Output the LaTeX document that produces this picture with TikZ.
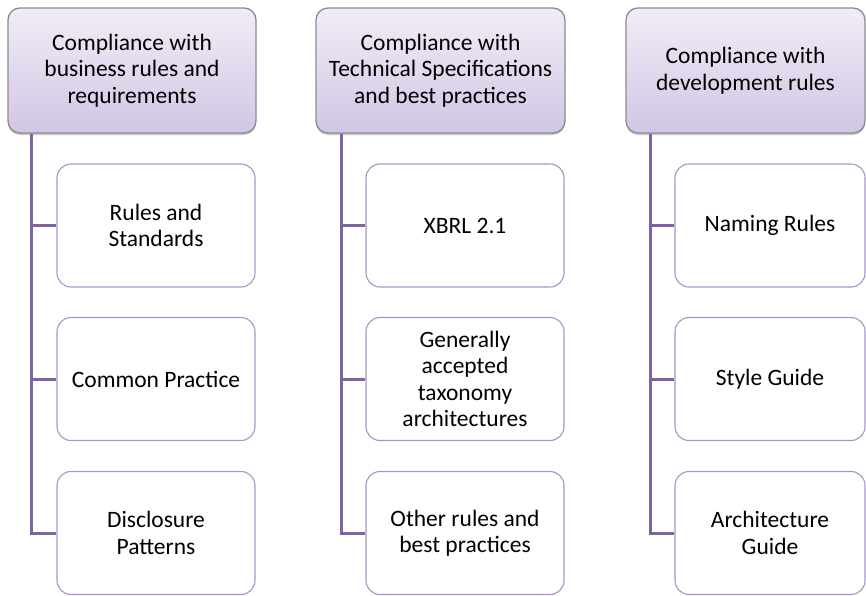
\documentclass[tikz,border=0pt]{standalone}
\usepackage{fontspec}
\setmainfont{Carlito}
\usetikzlibrary{shadows}
\definecolor{hdrtop}{HTML}{F1EDF7}
\definecolor{hdrbot}{HTML}{D2C6E4}
\definecolor{hdrborder}{HTML}{8E8A94}
\definecolor{childborder}{HTML}{A595C9}
\definecolor{connline}{HTML}{8064A2}
\tikzset{
  hdrbox/.style={draw=hdrborder, line width=1.3pt, rounded corners=12pt,
    top color=hdrtop, bottom color=hdrbot, align=center, inner sep=0pt,
    font=\fontsize{23.5}{26.5}\selectfont,
    drop shadow={shadow xshift=0pt, shadow yshift=-2pt, opacity=0.35, fill=black!60}},
  childbox/.style={draw=childborder, line width=1.1pt, rounded corners=14pt,
    fill=white, align=center, inner sep=0pt,
    font=\fontsize{23.5}{26.5}\selectfont},
  conn/.style={draw=connline, line width=3pt}
}
\begin{document}
\begin{tikzpicture}[x=1pt,y=-1pt]
\useasboundingbox (0,0) rectangle (866,595);
% headers
\node[hdrbox, minimum width=248pt, minimum height=125pt] (h1) at (132,70.5) {Compliance with\\business rules and\\requirements};
\node[hdrbox, minimum width=249pt, minimum height=125pt] (h2) at (440.5,70.5) {Compliance with\\Technical Specifications\\and best practices};
\node[hdrbox, minimum width=239pt, minimum height=125pt] (h3) at (745.5,70.5) {Compliance with\\development rules};
% column 1 children
\node[childbox, minimum width=198pt, minimum height=123pt] (c11) at (156,225.5) {Rules and\\Standards};
\node[childbox, minimum width=198pt, minimum height=123pt] (c12) at (156,379) {Common Practice};
\node[childbox, minimum width=198pt, minimum height=123pt] (c13) at (156,533) {Disclosure\\Patterns};
% column 2 children
\node[childbox, minimum width=198pt, minimum height=123pt] (c21) at (465,225.5) {XBRL 2.1};
\node[childbox, minimum width=198pt, minimum height=123pt] (c22) at (465,379) {Generally\\accepted\\taxonomy\\architectures};
\node[childbox, minimum width=198pt, minimum height=123pt] (c23) at (465,533) {Other rules and\\best practices};
% column 3 children
\node[childbox, minimum width=190pt, minimum height=123pt] (c31) at (770,225.5) {Naming Rules};
\node[childbox, minimum width=190pt, minimum height=123pt] (c32) at (770,379) {Style Guide};
\node[childbox, minimum width=190pt, minimum height=123pt] (c33) at (770,533) {Architecture\\Guide};
% connectors
\draw[conn] ([xshift=24pt]h1.south west) |- (c13.west);
\draw[conn] (c11.west) -| ([xshift=24pt]h1.south west);
\draw[conn] (c12.west) -| ([xshift=24pt]h1.south west);
\draw[conn] ([xshift=26pt]h2.south west) |- (c23.west);
\draw[conn] (c21.west) -| ([xshift=26pt]h2.south west);
\draw[conn] (c22.west) -| ([xshift=26pt]h2.south west);
\draw[conn] ([xshift=25pt]h3.south west) |- (c33.west);
\draw[conn] (c31.west) -| ([xshift=25pt]h3.south west);
\draw[conn] (c32.west) -| ([xshift=25pt]h3.south west);
\end{tikzpicture}
\end{document}
